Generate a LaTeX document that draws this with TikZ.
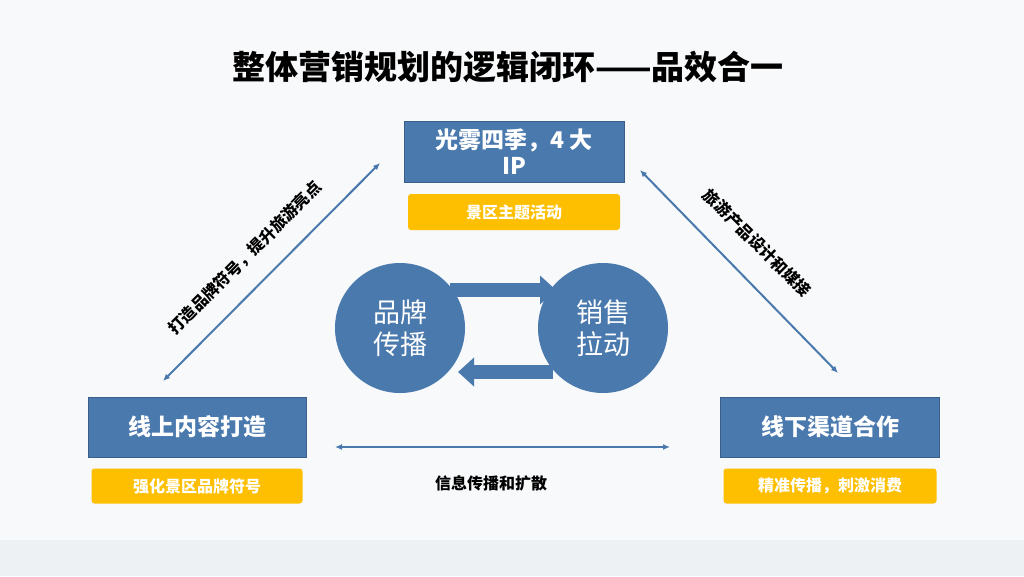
\documentclass[tikz,border=0pt]{standalone}
\usepackage{fontspec}
\setmainfont{Noto Sans CJK SC}
\usetikzlibrary{arrows.meta}
\definecolor{bl}{HTML}{4A79AE}
\definecolor{bld}{HTML}{3A5F8A}
\definecolor{yl}{HTML}{FDBF00}
\definecolor{bg}{HTML}{EEF1F4}
\begin{document}
\begin{tikzpicture}[x=1pt,y=-1pt,
  bbox/.style={fill=bl,draw=bld,line width=0.8pt,text=white,font=\bfseries\fontsize{23}{26}\selectfont,align=center},
  ybox/.style={fill=yl,rounded corners=3pt,text=white,font=\bfseries\fontsize{16}{18}\selectfont},
  circ/.style={circle,fill=bl,minimum size=130pt,text=white,font=\fontsize{27}{32}\selectfont,align=center},
  dbl/.style={{Latex[length=7pt,width=6pt]}-{Latex[length=7pt,width=6pt]},draw=bl,line width=2pt},
  blk/.style={-{Triangle[length=16pt,width=28pt]},draw=bl,line width=14pt},
  lab/.style={font=\bfseries\fontsize{16}{18}\selectfont}]
\fill[bg] (0,0) rectangle (1024,576);
\fill[white,opacity=0.6] (0,0) rectangle (1024,540);
\useasboundingbox (0,0) rectangle (1024,576);
\node[font=\bfseries\fontsize{33}{38}\selectfont] (t) at (508,67) {整体营销规划的逻辑闭环——品效合一};
\node[bbox,minimum width=220pt,minimum height=61pt] (top) at (514,152) {光雾四季，4 大\\IP};
\node[ybox,minimum width=212pt,minimum height=36pt] (ty) at (514,212) {景区主题活动};
\node[bbox,minimum width=218pt,minimum height=60pt] (lb) at (197,427) {线上内容打造};
\node[ybox,minimum width=211pt,minimum height=35pt] (ly) at (197,486) {强化景区品牌符号};
\node[bbox,minimum width=219pt,minimum height=60pt] (rb) at (830,427) {线下渠道合作};
\node[ybox,minimum width=213pt,minimum height=35pt] (ry) at (830,486) {精准传播，刺激消费};
\node[circ] (c1) at (400,328) {品牌\\传播};
\node[circ] (c2) at (603,328) {销售\\拉动};
\coordinate (a1) at (450,290); \coordinate (a2) at (556,290);
\coordinate (b1) at (553,372); \coordinate (b2) at (458,372);
\draw[blk] (a1) -- (a2);
\draw[blk] (b1) -- (b2);
\coordinate (l1) at (163,381); \coordinate (l2) at (380,163);
\coordinate (r1) at (640,170); \coordinate (r2) at (838,373);
\coordinate (h1) at (335,447); \coordinate (h2) at (670,447);
\draw[dbl] (l1) -- (l2);
\draw[dbl] (r1) -- (r2);
\draw[dbl] (h1) -- (h2);
\node[lab,rotate=45] (ll) at (245,258) {打造品牌符号，提升旅游亮点};
\node[lab,rotate=-45] (rl) at (757,243) {旅游产品设计和媒接};
\node[lab] (hl) at (491,483) {信息传播和扩散};
\end{tikzpicture}
\end{document}
